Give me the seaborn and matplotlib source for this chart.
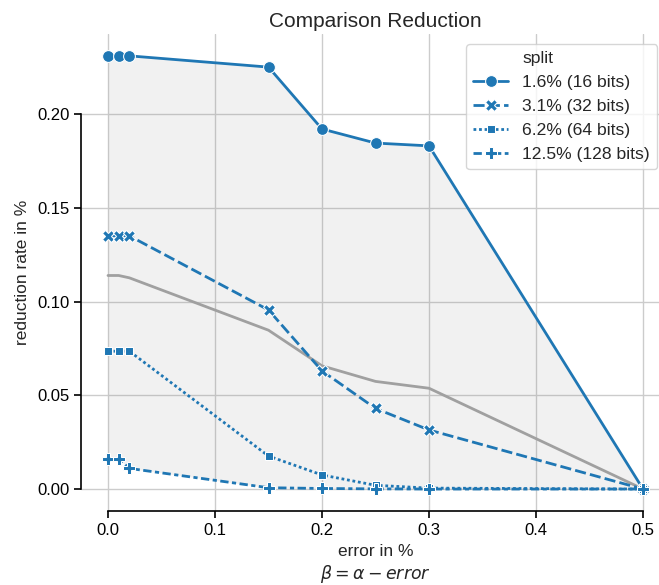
import numpy as np
import pandas as pd
import matplotlib
matplotlib.use("Agg")
import matplotlib.pyplot as plt
import seaborn as sns
from matplotlib.lines import Line2D

errors = [0.0, 0.01, 0.02, 0.15, 0.2, 0.25, 0.3, 0.5]
split_labels = ["1.6% (16 bits)", "3.1% (32 bits)", "6.2% (64 bits)", "12.5% (128 bits)"]
red_16 = [0.231, 0.231, 0.231, 0.225, 0.192, 0.1845, 0.183, 0.0]
red_32 = [0.135, 0.135, 0.135, 0.0955, 0.063, 0.043, 0.0315, 0.0]
red_64 = [0.0735, 0.0735, 0.0735, 0.0176, 0.0075, 0.002, 0.0005, 0.0]
red_128 = [0.016, 0.016, 0.011, 0.0007, 0.0003, 0.0001, 0.0, 0.0]
series = [red_16, red_32, red_64, red_128]

rows = []
for lab, vals in zip(split_labels, series):
    for e, v in zip(errors, vals):
        rows.append({"error": e, "reduction": v, "split": lab})
df = pd.DataFrame(rows)

arr = np.array(series)
stats = pd.DataFrame({"error": errors, "mean": arr.mean(axis=0),
                      "lo": arr.min(axis=0), "hi": arr.max(axis=0)})

sns.set_theme(context="notebook", style="whitegrid")
plt.rcParams["font.family"] = ["Liberation Sans", "DejaVu Sans"]
plt.rcParams["xtick.bottom"] = True
plt.rcParams["ytick.left"] = True
plt.rcParams["xtick.color"] = "black"
plt.rcParams["ytick.color"] = "black"

fig = plt.figure(figsize=(6.59, 5.85), dpi=100)
ax = fig.add_axes([81.25 / 659, (585 - 510.7) / 585, 588.5 / 659, 476.5 / 585])

ax.fill_between(stats["error"], stats["lo"], stats["hi"], color="gray", alpha=0.11, linewidth=0)
sns.lineplot(data=stats, x="error", y="mean", color="#a0a0a0", ax=ax, legend=False, linewidth=2)
sns.lineplot(data=df, x="error", y="reduction", style="split", markers=True,
             color="#1f77b4", ax=ax, markersize=8.5, linewidth=2)

ax.set_xlim(-0.025, 0.525)
ax.set_ylim(-0.01155, 0.24255)
ax.set_xticks([0.0, 0.1, 0.2, 0.3, 0.4, 0.5])
ax.set_yticks([0.0, 0.05, 0.10, 0.15, 0.20])
ax.set_xticklabels(["0.0", "0.1", "0.2", "0.3", "0.4", "0.5"])
ax.set_yticklabels(["0.00", "0.05", "0.10", "0.15", "0.20"])
ax.tick_params(labelsize=12, length=5, width=1.2, colors="black")
ax.set_xlabel("error in %\n" + r"$\beta = \alpha - error$", fontsize=12.5, labelpad=5)
ax.set_ylabel("reduction rate in %", fontsize=12.5, labelpad=5)
ax.set_title("Comparison Reduction", fontsize=15, pad=5)
sns.despine(ax=ax, trim=True)
for s in ["left", "bottom"]:
    ax.spines[s].set_color("black")
    ax.spines[s].set_linewidth(1.2)

handles, labels = ax.get_legend_handles_labels()
leg_h = [Line2D([], [], linestyle="none", marker="none")] + handles[-4:]
leg_l = ["split"] + labels[-4:]
ax.legend(leg_h, leg_l, loc="upper right", bbox_to_anchor=(657 / 659, 1 - 44 / 585),
          bbox_transform=fig.transFigure, fontsize=12.6, frameon=True, borderaxespad=0)

fig.savefig("out.png", dpi=100)
